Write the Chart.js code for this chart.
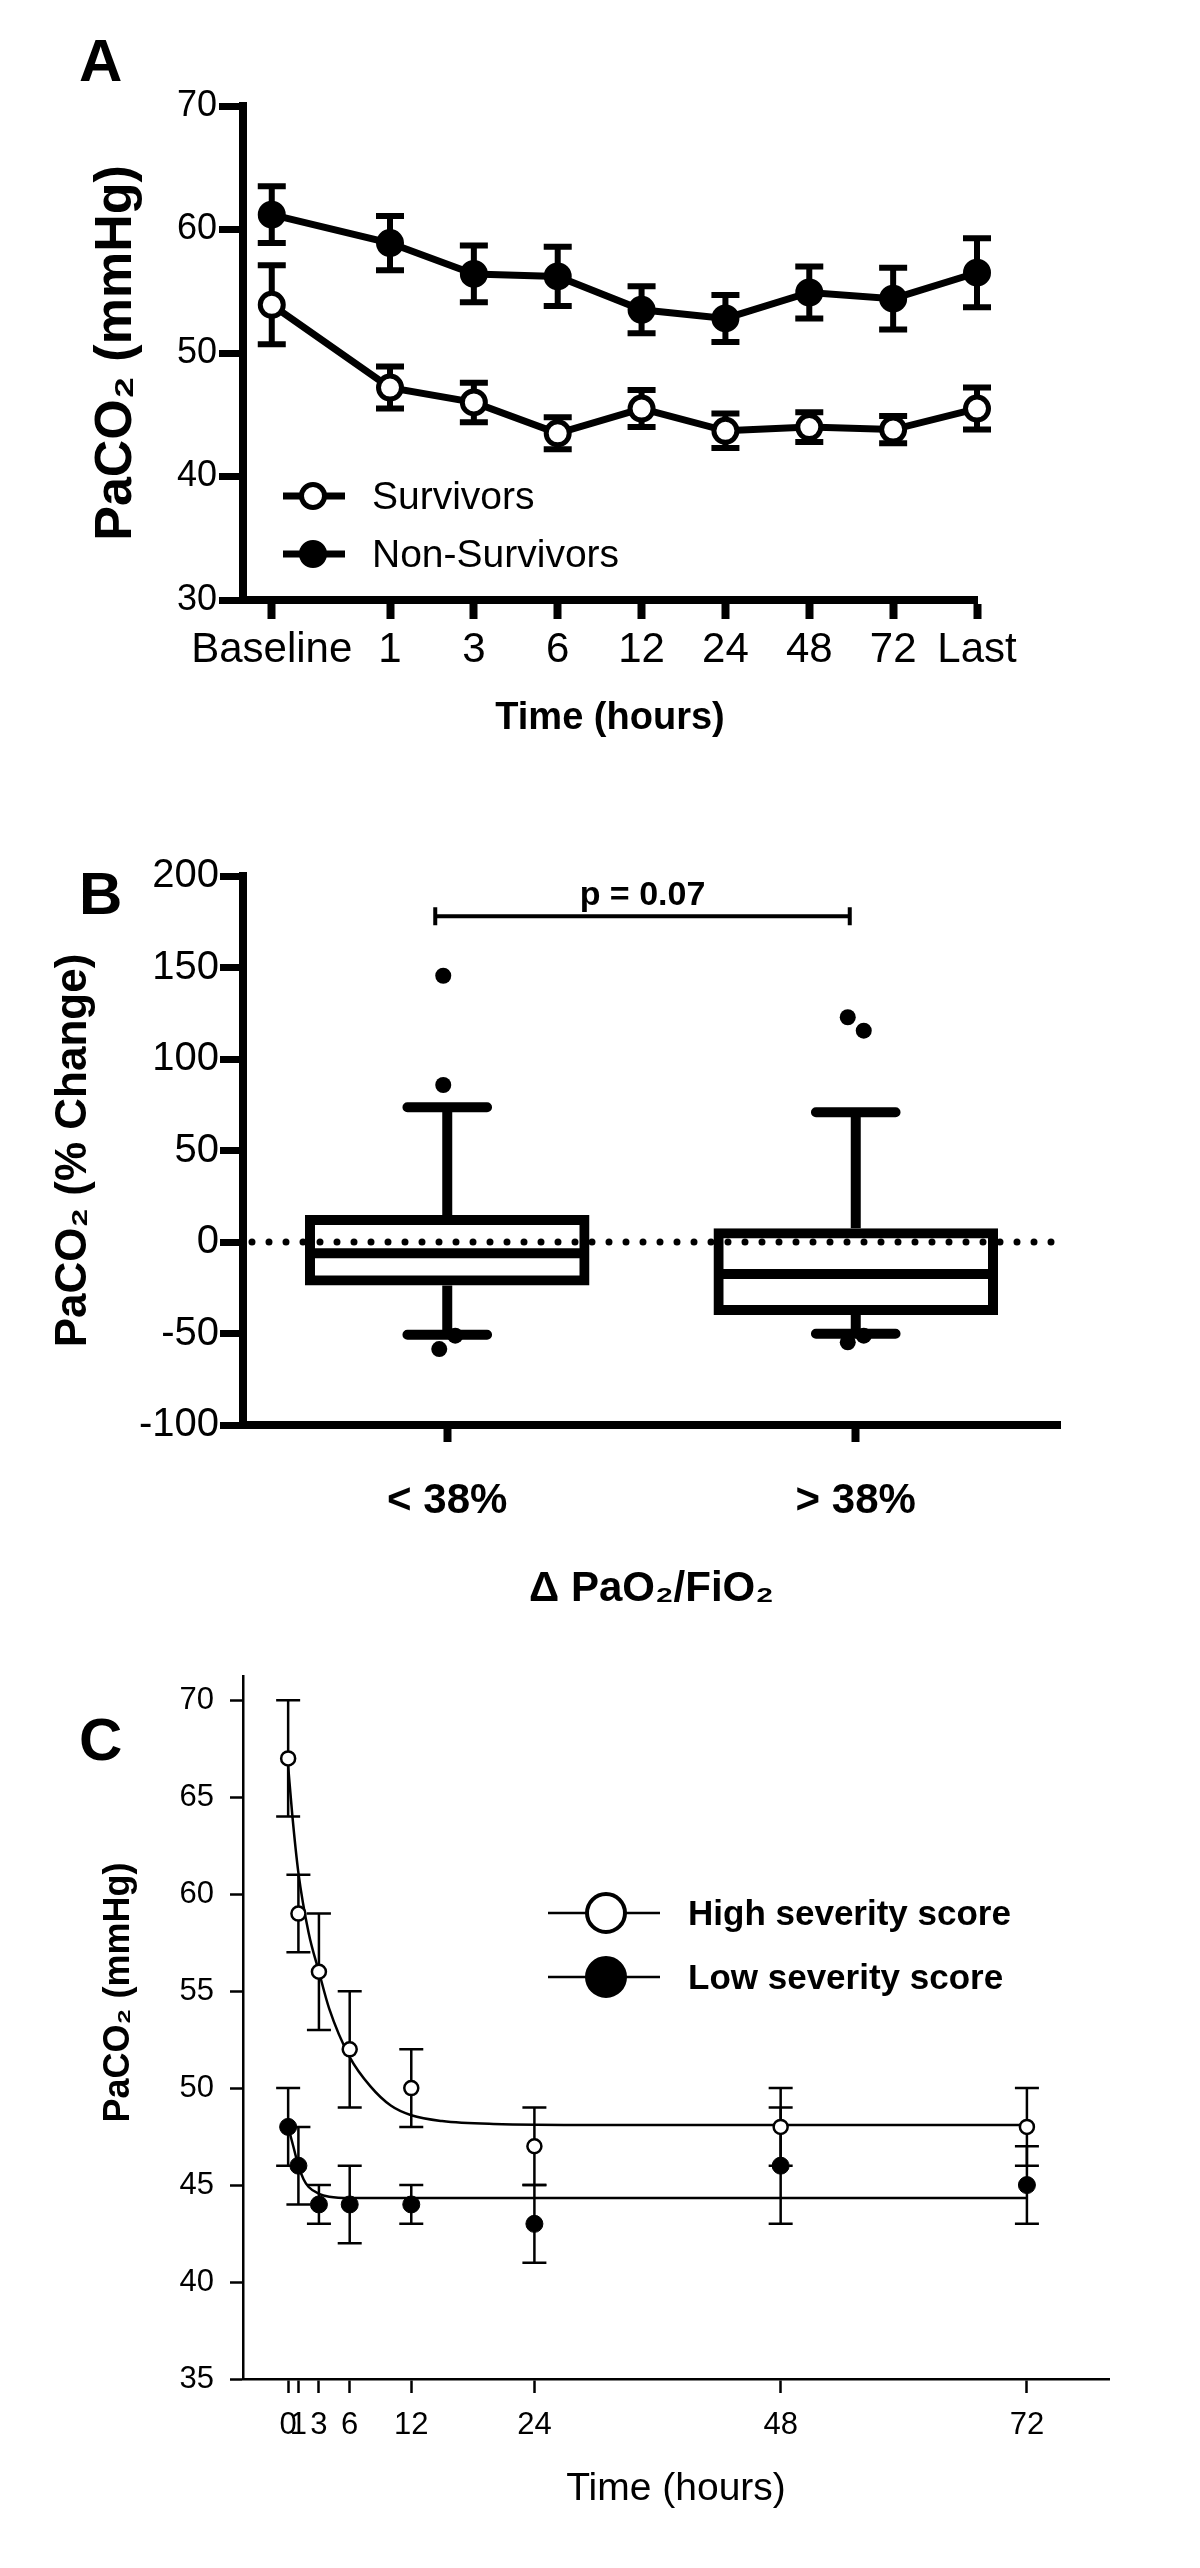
<!DOCTYPE html>
<html>
<head>
<meta charset="utf-8">
<title>PaCO2 figure</title>
<script src="https://cdn.jsdelivr.net/npm/chart.js@4.4.1/dist/chart.umd.min.js"></script>
<style>
  body { margin: 0; background: #fff; }
  #wrap { position: relative; width: 1200px; height: 2568px; }
  canvas { position: absolute; left: 0; }
  .tag { position: absolute; left: 79px; font: bold 60px 'Liberation Sans', Arial, sans-serif; line-height: 1; color: #000; z-index: 2; }
</style>
</head>
<body>
<div id="wrap">
  <div class="tag" style="top:31px">A</div>
  <div class="tag" style="top:864px">B</div>
  <div class="tag" style="top:1710px">C</div>
  <canvas id="chart_A" width="1200" height="760"  style="top:0"></canvas>
  <canvas id="chart_B" width="1200" height="880"  style="top:760px"></canvas>
  <canvas id="chart_C" width="1200" height="928"  style="top:1640px"></canvas>
</div>
<script>
"use strict";

// ---- A : survivors vs non-survivors ----
const time_Labels  = ['Baseline', '1', '3', '6', '12', '24', '48', '72', 'Last'];
const surv_Mean    = [53.9, 47.2, 46.0, 43.5, 45.5, 43.7, 44.0, 43.8, 45.5];
const surv_Err     = [3.2, 1.7, 1.6, 1.3, 1.5, 1.4, 1.2, 1.1, 1.7];
const nonSurv_Mean = [61.2, 58.9, 56.4, 56.2, 53.5, 52.8, 54.9, 54.4, 56.5];
const nonSurv_Err  = [2.3, 2.2, 2.3, 2.4, 1.9, 1.9, 2.1, 2.5, 2.8];
const yTicks_A     = [30, 40, 50, 60, 70];

// ---- B : % change box plot ----
const box_Labels   = ['< 38%', '> 38%'];
const box_Q1       = [-21.1, -37.2];
const box_Median   = [-6.2, -17.5];
const box_Q3       = [12.0, 4.8];
const box_WhiskLo  = [-50.7, -50.1];
const box_WhiskHi  = [73.6, 70.9];
const box_Outliers = [[145.5, 85.8, -58.5, -51.2], [122.8, 115.5, -54.8, -51.2]];
const yTicks_B     = [-100, -50, 0, 50, 100, 150, 200];
const p_Value      = 'p = 0.07';
const p_Level      = 178;

// ---- C : severity score ----
const c_Hours      = [0, 1, 3, 6, 12, 24, 48, 72];
const high_Mean    = [67, 59, 56, 52, 50, 47, 48, 48];
const high_Err     = [3, 2, 3, 3, 2, 2, 2, 2];
const low_Mean     = [48, 46, 44, 44, 44, 43, 46, 45];
const low_Err      = [2, 2, 1, 2, 1, 2, 3, 2];
const highFit_Hrs  = [0, 0.4, 1, 2, 3, 4, 6, 8, 10, 12, 15, 20, 30, 72];
const highFit_Val  = [66.6, 64.1, 61.1, 58.0, 56.0, 54.1, 51.6, 50.1, 49.1, 48.6, 48.3, 48.15, 48.1, 48.1];
const lowFit_Hrs   = [0, 0.5, 1, 1.5, 2, 3, 4, 6, 72];
const lowFit_Val   = [48.0, 47.0, 46.0, 45.3, 44.9, 44.55, 44.4, 44.33, 44.33];
const yTicks_C     = [35, 40, 45, 50, 55, 60, 65, 70];

const FONT = "'Liberation Sans', Arial, Helvetica, sans-serif";
Chart.defaults.font.family = FONT;
Chart.defaults.color = '#000';

// baseline sits a bit further left than the regular steps
const BASE_GAP = 1.41;
const xPos_A = time_Labels.map((t, i) => i === 0 ? 1 - BASE_GAP : i);

const toXY = (xs, ys) => ys.map((v, i) => ({ x: xs[i], y: v }));
const fixTicks = list => s => { s.ticks = list.map(v => ({ value: v })); };

// error bars (mean ± err) under the markers
const errorBars = {
  id: 'errorBars',
  beforeDatasetsDraw(chart, args, o) {
    const ctx = chart.ctx, ys = chart.scales.y;
    chart.data.datasets.forEach((ds, d) => {
      if (!ds.errors) return;
      const pts = chart.getDatasetMeta(d).data;
      ctx.save();
      ctx.strokeStyle = '#000';
      ctx.lineWidth = o.width;
      pts.forEach((pt, i) => {
        const v = ds.data[i].y, e = ds.errors[i];
        const yHi = ys.getPixelForValue(v + e), yLo = ys.getPixelForValue(v - e);
        ctx.beginPath();
        ctx.moveTo(pt.x, yHi); ctx.lineTo(pt.x, yLo);
        ctx.moveTo(pt.x - o.cap, yHi); ctx.lineTo(pt.x + o.cap, yHi);
        ctx.moveTo(pt.x - o.cap, yLo); ctx.lineTo(pt.x + o.cap, yLo);
        ctx.stroke();
      });
      ctx.restore();
    });
  }
};

// legend drawn as  —o—  label
const lineLegend = {
  id: 'lineLegend',
  afterDraw(chart, args, o) {
    const ctx = chart.ctx;
    chart.data.datasets.filter(ds => ds.label).forEach((ds, k) => {
      const y = o.top + k * o.gap;
      ctx.save();
      ctx.strokeStyle = '#000';
      ctx.lineWidth = o.lineWidth;
      ctx.beginPath(); ctx.moveTo(o.x0, y); ctx.lineTo(o.x1, y); ctx.stroke();
      ctx.beginPath(); ctx.arc(o.mx, y, o.radius, 0, Math.PI * 2);
      ctx.fillStyle = ds.pointBackgroundColor; ctx.fill();
      ctx.lineWidth = o.borderWidth; ctx.stroke();
      ctx.fillStyle = '#000';
      ctx.font = o.font;
      ctx.textBaseline = 'middle';
      ctx.fillText(ds.label, o.tx, y + 2);
      ctx.restore();
    });
  }
};

// median, whiskers, outliers, zero line and p bracket for the box plot
const boxParts = {
  id: 'boxParts',
  afterDatasetsDraw(chart, args, o) {
    const ctx = chart.ctx, ys = chart.scales.y, area = chart.chartArea;
    const ds = chart.data.datasets[0];
    const bars = chart.getDatasetMeta(0).data;
    const lw = o.lineWidth;
    ctx.save();
    ctx.strokeStyle = '#000'; ctx.fillStyle = '#000';
    bars.forEach((bar, i) => {
      const cx = bar.x, half = bar.width / 2, capHalf = bar.width * 0.145;
      const yMed = ys.getPixelForValue(ds.median[i]);
      const yQ1 = ys.getPixelForValue(ds.data[i][0]), yQ3 = ys.getPixelForValue(ds.data[i][1]);
      const yHi = ys.getPixelForValue(ds.whiskHi[i]), yLo = ys.getPixelForValue(ds.whiskLo[i]);
      ctx.lineWidth = lw; ctx.lineCap = 'butt';
      ctx.beginPath();
      ctx.moveTo(cx - half, yMed); ctx.lineTo(cx + half, yMed);
      ctx.moveTo(cx, yQ3 - lw / 2); ctx.lineTo(cx, yHi);
      ctx.moveTo(cx, yQ1 + lw / 2); ctx.lineTo(cx, yLo);
      ctx.stroke();
      ctx.lineCap = 'round';
      ctx.beginPath();
      ctx.moveTo(cx - capHalf, yHi); ctx.lineTo(cx + capHalf, yHi);
      ctx.moveTo(cx - capHalf, yLo); ctx.lineTo(cx + capHalf, yLo);
      ctx.stroke();
      const list = ds.outliers[i];
      list.forEach((v, k) => {
        const j = list.findIndex((w, m) => m !== k && Math.abs(w - v) < 10);
        const dx = j < 0 ? -4 : (k < j ? -8 : 8);
        ctx.beginPath();
        ctx.arc(cx + dx, ys.getPixelForValue(v), o.dot, 0, Math.PI * 2);
        ctx.fill();
      });
    });
    // dotted zero line
    const y0 = ys.getPixelForValue(0);
    ctx.lineCap = 'round'; ctx.lineWidth = 7; ctx.setLineDash([0, 17]);
    ctx.beginPath(); ctx.moveTo(area.left + 9, y0); ctx.lineTo(area.right, y0); ctx.stroke();
    ctx.setLineDash([]);
    // significance bracket
    const yb = ys.getPixelForValue(p_Level);
    const x0 = bars[0].x - 12, x1 = bars[1].x - 6;
    ctx.lineCap = 'butt'; ctx.lineWidth = 4;
    ctx.beginPath();
    ctx.moveTo(x0, yb); ctx.lineTo(x1, yb);
    ctx.moveTo(x0, yb - 9); ctx.lineTo(x0, yb + 9);
    ctx.moveTo(x1, yb - 9); ctx.lineTo(x1, yb + 9);
    ctx.stroke();
    ctx.font = 'bold 34px ' + FONT;
    ctx.textAlign = 'center'; ctx.textBaseline = 'alphabetic';
    ctx.fillText(p_Value, (x0 + x1) / 2, yb - 11);
    ctx.restore();
  }
};

// one axis: border, outside tick marks, labels, title
function axis(o) {
  const ticks = { autoSkip: false, maxRotation: 0, padding: o.pad, color: '#000',
                  font: { size: o.size, weight: o.weight || 'normal' } };
  if (o.callback) ticks.callback = o.callback;
  return Object.assign({
    border: { display: true, width: o.bw, color: '#000' },
    grid: { drawOnChartArea: false, offset: false, tickLength: o.tl, tickWidth: o.tw, tickColor: '#000' },
    ticks: ticks,
    title: { display: true, text: o.title, color: '#000',
             font: { size: o.tSize, weight: o.tWeight || 'bold' }, padding: o.tPad }
  }, o.extra);
}

//　A ーーーーーーーーーーー
new Chart(document.getElementById('chart_A'), {
  type: 'line',
  data: {
    datasets: [
      { label: 'Survivors', data: toXY(xPos_A, surv_Mean), errors: surv_Err,
        borderColor: '#000', borderWidth: 7, pointRadius: 11.5, pointBorderWidth: 5,
        pointBackgroundColor: '#fff', pointBorderColor: '#000', clip: false },
      { label: 'Non-Survivors', data: toXY(xPos_A, nonSurv_Mean), errors: nonSurv_Err,
        borderColor: '#000', borderWidth: 7, pointRadius: 11.5, pointBorderWidth: 5,
        pointBackgroundColor: '#000', pointBorderColor: '#000', clip: false }
    ]
  },
  options: {
    responsive: false, animation: false, events: [],
    layout: { padding: { top: 106, right: 223, bottom: 0, left: 0 } },
    plugins: {
      legend: { display: false }, tooltip: { enabled: false },
      errorBars: { width: 6, cap: 14 },
      lineLegend: { top: 496, gap: 58, x0: 283, x1: 345, mx: 313, tx: 372, radius: 11.5,
                    borderWidth: 5, lineWidth: 7, font: '39px ' + FONT }
    },
    scales: {
      x: axis({ bw: 8, tl: 19, tw: 8, pad: 6, size: 42,
                callback: v => time_Labels[xPos_A.indexOf(v)],
                title: 'Time (hours)', tSize: 38, tPad: { top: 0, bottom: 19 },
                extra: { type: 'linear', min: 1 - 1.753, max: 8,
                         afterBuildTicks: fixTicks(xPos_A), afterFit: s => { s.height = 160; } } }),
      y: axis({ bw: 8, tl: 24, tw: 7, pad: 2, size: 36,
                title: 'PaCO₂ (mmHg)', tSize: 52, tPad: { top: 85, bottom: 0 },
                extra: { min: 30, max: 70,
                         afterBuildTicks: fixTicks(yTicks_A), afterFit: s => { s.width = 243; } } })
    }
  },
  plugins: [errorBars, lineLegend]
});

//　B ーーーーーーーーーーー
new Chart(document.getElementById('chart_B'), {
  type: 'bar',
  data: {
    labels: box_Labels,
    datasets: [{
      data: box_Q1.map((q, i) => [q, box_Q3[i]]),
      median: box_Median, whiskLo: box_WhiskLo, whiskHi: box_WhiskHi, outliers: box_Outliers,
      backgroundColor: '#fff', borderColor: '#000', borderWidth: 10, borderSkipped: false,
      inflateAmount: 5, barPercentage: 0.672, categoryPercentage: 1
    }]
  },
  options: {
    responsive: false, animation: false, events: [],
    layout: { padding: { top: 116, right: 140, bottom: 0, left: 0 } },
    plugins: {
      legend: { display: false }, tooltip: { enabled: false },
      boxParts: { lineWidth: 10, dot: 8 }
    },
    scales: {
      x: axis({ bw: 8, tl: 17, tw: 8, pad: 34, size: 42, weight: 'bold',
                title: 'Δ PaO₂/FiO₂', tSize: 42, tPad: { top: 0, bottom: 25 },
                extra: { offset: true, afterFit: s => { s.height = 215; } } }),
      y: axis({ bw: 8, tl: 23, tw: 7, pad: 1, size: 40,
                title: 'PaCO₂ (% Change)', tSize: 44, tPad: { top: 47, bottom: 0 },
                extra: { min: -100, max: 200,
                         afterBuildTicks: fixTicks(yTicks_B), afterFit: s => { s.width = 243; } } })
    }
  },
  plugins: [boxParts]
});

//　C ーーーーーーーーーーー
new Chart(document.getElementById('chart_C'), {
  type: 'line',
  data: {
    datasets: [
      { label: 'High severity score', data: toXY(c_Hours, high_Mean), errors: high_Err,
        showLine: false, pointRadius: 7, pointBorderWidth: 2.5,
        pointBackgroundColor: '#fff', pointBorderColor: '#000', clip: false },
      { label: 'Low severity score', data: toXY(c_Hours, low_Mean), errors: low_Err,
        showLine: false, pointRadius: 8.5, pointBorderWidth: 1,
        pointBackgroundColor: '#000', pointBorderColor: '#000', clip: false },
      { data: toXY(highFit_Hrs, highFit_Val), borderColor: '#000', borderWidth: 2.5,
        pointRadius: 0, cubicInterpolationMode: 'monotone' },
      { data: toXY(lowFit_Hrs, lowFit_Val), borderColor: '#000', borderWidth: 2.5,
        pointRadius: 0, cubicInterpolationMode: 'monotone' }
    ]
  },
  options: {
    responsive: false, animation: false, events: [],
    layout: { padding: { top: 36, right: 91, bottom: 0, left: 0 } },
    plugins: {
      legend: { display: false }, tooltip: { enabled: false },
      errorBars: { width: 2.5, cap: 12 },
      lineLegend: { top: 273, gap: 64, x0: 548, x1: 660, mx: 606, tx: 688, radius: 19,
                    borderWidth: 4, lineWidth: 2.5, font: 'bold 35px ' + FONT }
    },
    scales: {
      x: axis({ bw: 2.5, tl: 14, tw: 2.5, pad: 14, size: 31,
                title: 'Time (hours)', tSize: 39, tWeight: 'normal', tPad: { top: 0, bottom: 55 },
                extra: { type: 'linear', min: -4.4, max: 80,
                         afterBuildTicks: fixTicks(c_Hours), afterFit: s => { s.height = 189; } } }),
      y: axis({ bw: 2.5, tl: 13, tw: 2.5, pad: 16, size: 31,
                title: '       PaCO₂ (mmHg)', tSize: 36, tPad: { top: 97, bottom: 0 },
                extra: { min: 35, max: 71.25,
                         afterBuildTicks: fixTicks(yTicks_C), afterFit: s => { s.width = 243; } } })
    }
  },
  plugins: [errorBars, lineLegend]
});
</script>
</body>
</html>
